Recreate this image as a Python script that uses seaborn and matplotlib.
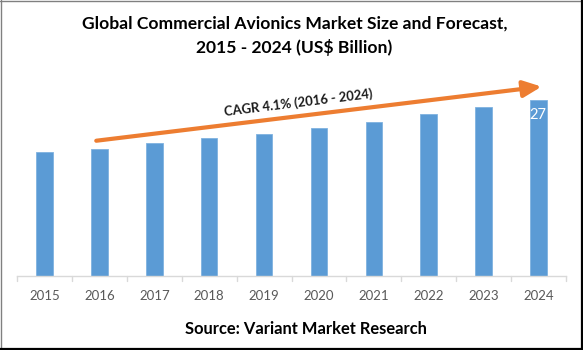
import matplotlib
matplotlib.use("Agg")
import matplotlib.pyplot as plt
import seaborn as sns
import pandas as pd
from matplotlib.lines import Line2D

years = ["2015", "2016", "2017", "2018", "2019", "2020", "2021", "2022", "2023", "2024"]
values = [19.0, 19.5, 20.3, 21.1, 21.8, 22.7, 23.6, 24.8, 25.9, 27.0]
value_label = "27"
cagr_label = "CAGR 4.1% (2016 - 2024)"
title_line1 = "Global Commercial Avionics Market Size and Forecast,"
title_line2 = "2015 - 2024 (US$ Billion)"
source_text = "Source: Variant Market Research"

sns.set_theme(style="white")
plt.rcParams['font.family'] = ['Lato', 'DejaVu Sans']

df = pd.DataFrame({"year": years, "value": values})

W, H = 583, 350
fig = plt.figure(figsize=(W / 100, H / 100), dpi=100)
fig.patch.set_facecolor("white")

ax_left = 17.3 / W
ax_right = 565.7 / W
ax_bottom = (H - 275.7) / H
ax_height = 30 * 6.52 / H
ax = fig.add_axes([ax_left, ax_bottom, ax_right - ax_left, ax_height])

bar_color = "#5B9BD5"
sns.barplot(data=df, x="year", y="value", color=bar_color, width=0.3,
            saturation=1, edgecolor="#7FB2E0", linewidth=0.6, ax=ax)

ax.set_xlim(-0.5, 9.5)
ax.set_ylim(0, 30)
ax.set_xlabel("")
ax.set_ylabel("")
ax.set_yticks([])
for s in ["top", "right", "left"]:
    ax.spines[s].set_visible(False)
ax.spines["bottom"].set_color("#D9D9D9")
ax.spines["bottom"].set_linewidth(1)

# Excel-style tick marks between categories
ax.set_xticks(range(len(years)))
ax.set_xticklabels(years)
ax.tick_params(axis="x", length=0, pad=10, labelsize=9.5, labelcolor="#595959")
for i in range(len(years) + 1):
    ax.plot([i - 0.5, i - 0.5], [0, -0.75], color="#D9D9D9", lw=1, clip_on=False)

# Data label on last bar
ax.text(len(years) - 1, values[-1] - 2.3, value_label, ha="center", va="center",
        color="white", fontsize=10.5)

# CAGR arrow
ax.annotate("", xy=(9.06, 29.0), xytext=(0.94, 20.7),
            arrowprops=dict(arrowstyle="-|>,head_length=1.1,head_width=0.5",
                            mutation_scale=10, lw=3, color="#ED7D31",
                            shrinkA=0, shrinkB=0),
            annotation_clip=False)
ax.text(4.62, 26.6, cagr_label, rotation=7, rotation_mode="anchor",
        ha="center", va="center", fontsize=9.4, fontweight="bold", color="#1a1a1a")

# Titles
fig.text(294.5 / W, 1 - 24 / H, title_line1, ha="center", va="center",
         fontsize=12.6, fontweight="bold", color="black")
fig.text(294.5 / W, 1 - 47 / H, title_line2, ha="center", va="center",
         fontsize=12.6, fontweight="bold", color="black")
fig.text(306 / W, 1 - 329 / H, source_text, ha="center", va="center",
         fontsize=11.9, fontweight="bold", color="black")

# Border
fig.add_artist(Line2D([0.5 / W, 0.5 / W], [0, 1], transform=fig.transFigure, color="#808080", lw=1))
fig.add_artist(Line2D([0, 1], [1 - 0.5 / H, 1 - 0.5 / H], transform=fig.transFigure, color="#808080", lw=1))
fig.add_artist(Line2D([1 - 1.5 / W, 1 - 1.5 / W], [0, 1], transform=fig.transFigure, color="black", lw=1.6))
fig.add_artist(Line2D([0, 1], [1.2 / H, 1.2 / H], transform=fig.transFigure, color="black", lw=1.6))

fig.savefig("out.png", dpi=100)
